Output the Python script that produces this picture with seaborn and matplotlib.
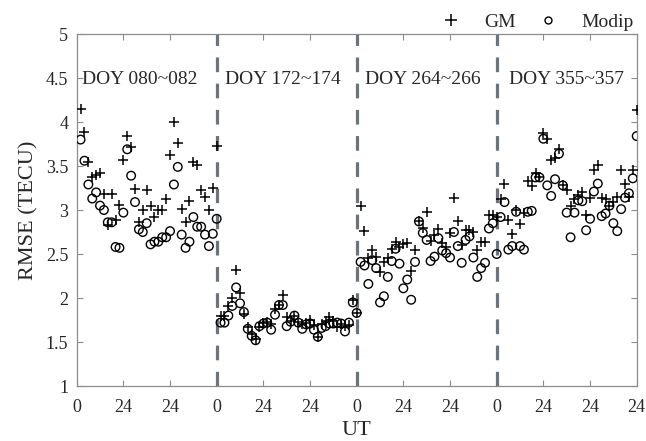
import numpy as np
import pandas as pd
import matplotlib
matplotlib.use("Agg")
import matplotlib.pyplot as plt
from matplotlib.lines import Line2D
from matplotlib.ticker import FuncFormatter
import seaborn as sns

# Sampling: every 2 h within each 3-day window (hour of window)
window_hours = np.arange(2, 73, 2)
windows = ["DOY 080~082", "DOY 172~174", "DOY 264~266", "DOY 355~357"]

gm_080 = [4.15, 3.89, 3.54, 3.37, 3.40, 3.42, 3.18, 2.83, 3.18, 2.89, 3.06, 3.57,
          3.84, 3.72, 3.24, 2.86, 3.00, 3.23, 3.05, 2.92, 3.00, 3.00, 3.13, 3.62,
          4.00, 3.76, 3.01, 2.86, 3.10, 3.55, 3.51, 3.23, 3.15, 3.00, 3.25, 3.73]
modip_080 = [3.80, 3.56, 3.29, 3.13, 3.20, 3.05, 3.00, 2.86, 2.86, 2.58, 2.57, 2.97,
             3.69, 3.39, 3.09, 2.78, 2.75, 2.85, 2.61, 2.64, 2.64, 2.69, 2.69, 2.76,
             3.29, 3.49, 2.72, 2.57, 2.64, 2.92, 2.81, 2.81, 2.72, 2.59, 2.73, 2.90]

gm_172 = [1.79, 1.80, 1.91, 2.00, 2.32, 2.06, 1.82, 1.67, 1.59, 1.53, 1.67, 1.72,
          1.73, 1.70, 1.87, 1.92, 2.03, 1.78, 1.74, 1.80, 1.73, 1.71, 1.72, 1.75,
          1.69, 1.56, 1.71, 1.74, 1.78, 1.74, 1.67, 1.71, 1.68, 1.69, 1.98, 1.83]
modip_172 = [1.72, 1.72, 1.80, 1.91, 2.12, 1.94, 1.84, 1.65, 1.57, 1.52, 1.68, 1.71,
             1.72, 1.64, 1.81, 1.92, 1.92, 1.68, 1.73, 1.80, 1.72, 1.65, 1.70, 1.71,
             1.64, 1.56, 1.66, 1.68, 1.71, 1.71, 1.72, 1.71, 1.62, 1.72, 1.95, 1.83]

gm_264 = [3.05, 2.76, 2.45, 2.55, 2.47, 2.29, 2.41, 2.45, 2.56, 2.64, 2.58, 2.61,
          2.62, 2.31, 2.55, 2.87, 2.80, 2.98, 2.65, 2.72, 2.78, 2.62, 2.58, 2.74,
          3.14, 2.88, 2.60, 2.77, 2.77, 2.75, 2.54, 2.64, 2.64, 2.94, 2.94, 2.92]
modip_264 = [2.41, 2.37, 2.16, 2.43, 2.34, 1.95, 2.02, 2.24, 2.42, 2.56, 2.39, 2.11,
             2.21, 1.98, 2.41, 2.87, 2.74, 2.66, 2.42, 2.47, 2.68, 2.54, 2.51, 2.46,
             2.75, 2.59, 2.40, 2.66, 2.70, 2.46, 2.24, 2.34, 2.40, 2.79, 2.85, 2.50]

gm_355 = [3.13, 3.30, 2.89, 2.73, 3.00, 2.84, 2.97, 3.33, 3.27, 3.42, 3.38, 3.87,
          3.81, 3.57, 3.59, 3.69, 3.28, 3.23, 3.05, 3.12, 3.17, 3.20, 2.94, 3.14,
          3.45, 3.51, 3.14, 3.12, 3.04, 3.09, 3.15, 3.45, 3.30, 3.15, 3.45, 4.14]
modip_355 = [2.92, 3.09, 2.55, 2.59, 2.98, 2.59, 2.55, 2.98, 2.99, 3.37, 3.37, 3.81,
             3.28, 3.16, 3.35, 3.64, 3.28, 2.97, 2.69, 2.97, 3.11, 3.10, 2.77, 2.90,
             3.21, 3.30, 2.93, 2.96, 3.05, 2.85, 2.76, 3.01, 3.14, 3.19, 3.36, 3.84]

x_tick_labels = ["0", "24", "24", "0", "24", "24", "0", "24", "24", "0", "24", "24", "24"]

gm_all = [gm_080, gm_172, gm_264, gm_355]
modip_all = [modip_080, modip_172, modip_264, modip_355]

rows = []
for i, (g, m) in enumerate(zip(gm_all, modip_all)):
    for h, gv, mv in zip(window_hours, g, m):
        t = i * 72 + h
        rows.append({"t": t, "rmse": gv, "model": "GM"})
        rows.append({"t": t, "rmse": mv, "model": "Modip"})
df = pd.DataFrame(rows)

sns.set_theme(style="ticks")
plt.rcParams["font.family"] = ["Liberation Serif", "DejaVu Serif"]

fig = plt.figure(figsize=(6.46, 4.41), dpi=100)
ax = fig.add_axes([0.1187, 0.1247, 0.8669, 0.7982])

spine_col = "#8c8c8c"
text_col = "#262626"

# window separators
for xb in (72, 144, 216):
    ax.axvline(xb, color="#6b737b", lw=2.3, ls=(0, (4.6, 3.6)), zorder=1)

gm_df = df[df["model"] == "GM"]
mo_df = df[df["model"] == "Modip"]
sns.scatterplot(data=gm_df, x="t", y="rmse", marker="+", color="black",
                s=60, linewidth=1.1, ax=ax, legend=False, zorder=3)
sns.scatterplot(data=mo_df, x="t", y="rmse", marker="o", color="black",
                s=38, linewidth=1.0, ax=ax, legend=False, zorder=3)
ax.collections[-1].set_facecolor("none")
ax.collections[-1].set_edgecolor("black")

ax.set_xlim(0, 288)
ax.set_ylim(1, 5)
ax.set_xticks(np.arange(0, 289, 24))
ax.set_xticklabels(x_tick_labels)
ax.set_yticks(np.arange(1, 5.01, 0.5))
ax.yaxis.set_major_formatter(FuncFormatter(lambda v, p: f"{v:g}"))

ax.tick_params(direction="in", length=4, width=0.8, color=spine_col,
               labelsize=13, labelcolor=text_col, top=True, right=True)
ax.tick_params(axis="x", pad=9)
ax.tick_params(axis="y", pad=6)
for sp in ax.spines.values():
    sp.set_visible(True)
    sp.set_color(spine_col)
    sp.set_linewidth(0.9)

ax.set_xlabel("UT", fontsize=16, color=text_col, labelpad=4)
ax.set_ylabel("RMSE (TECU)", fontsize=16, color=text_col, labelpad=5)

label_x = [2.7, 76.2, 148.3, 222.5]
for lx, name in zip(label_x, windows):
    ax.text(lx, 4.48, name, fontsize=14, color=text_col, ha="left", va="center")

handles = [Line2D([], [], ls="", marker="+", color="black", markersize=8, mew=1.1),
           Line2D([], [], ls="", marker="o", mfc="none", mec="black", markersize=5, mew=1.0)]
ax.legend(handles, ["GM", "Modip"], loc="lower right", bbox_to_anchor=(1.0, 1.0),
          ncol=2, frameon=False, fontsize=14, handlelength=1.6, handletextpad=0.9,
          columnspacing=0.9, borderaxespad=0.0, borderpad=0.15, labelcolor=text_col)

fig.savefig("out.png", dpi=100)
